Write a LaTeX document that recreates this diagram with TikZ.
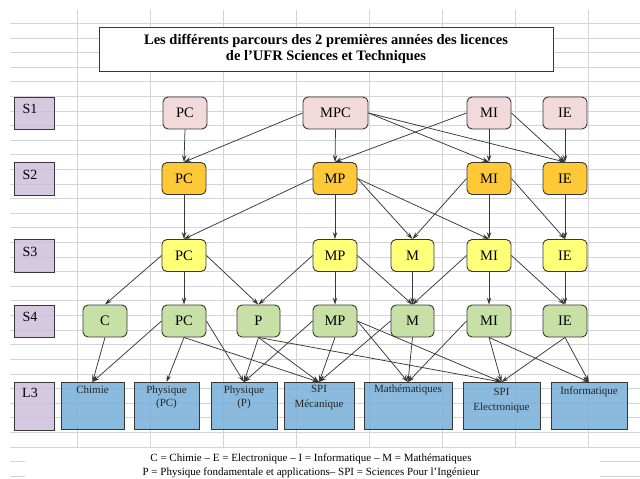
\documentclass[tikz,border=0pt]{standalone}
\usepackage{fontspec}
\setmainfont{Liberation Serif}
\usetikzlibrary{arrows.meta}

\definecolor{gridgray}{RGB}{212,212,212}
\definecolor{edgegray}{RGB}{55,55,55}
\definecolor{semfill}{RGB}{204,192,218}
\definecolor{sonefill}{RGB}{242,218,219}
\definecolor{stwofill}{RGB}{255,200,55}
\definecolor{sthreefill}{RGB}{255,255,120}
\definecolor{sfourfill}{RGB}{198,224,166}
\definecolor{lthreefill}{RGB}{118,174,216}

\tikzset{
    gridline/.style={gridgray, line width=0.8pt},
    titlebox/.style={draw=edgegray, fill=white, line width=0.9pt, minimum width=454pt, minimum height=44pt, align=center, font=\bfseries\fontsize{14.5}{16}\selectfont},
    sembox/.style={draw=edgegray, fill=semfill, fill opacity=0.85, line width=0.9pt, minimum width=40pt, inner sep=0pt},
    semtext/.style={font=\fontsize{14}{15}\selectfont},
    ue/.style={draw=edgegray, line width=0.9pt, rounded corners=5pt, minimum width=44pt, minimum height=32pt, inner sep=0pt, font=\fontsize{14.5}{16}\selectfont},
    sone/.style={ue, fill=sonefill},
    stwo/.style={ue, fill=stwofill},
    sthree/.style={ue, fill=sthreefill},
    sfour/.style={ue, fill=sfourfill},
    lbox/.style={draw=edgegray, fill=lthreefill, fill opacity=0.85, line width=0.9pt, minimum height=47pt, inner sep=0pt},
    ltext/.style={anchor=north, align=center, inner sep=0pt, text=black!85, font=\fontsize{11}{13}\selectfont},
    conn/.style={edgegray, line width=0.75pt, -{Stealth[length=7pt, width=4.5pt, inset=2.5pt]}},
}

\begin{document}
\begin{tikzpicture}[x=1pt, y=-1pt]
    \useasboundingbox (0,0) rectangle (640,479);
    \foreach \k in {0,...,31}
        \draw [gridline] (10,23.3+14.61*\k) -- (640,23.3+14.61*\k);
    \foreach \k in {0,...,7}
        \draw [gridline] (77+73*\k,10) -- (77+73*\k,448);
    \fill [white] (25,450) rectangle (600,479);

    \node [titlebox] (title) at (326,49) {Les différents parcours des 2 premières années des licences\\de l’UFR Sciences et Techniques};

    \node [sembox, minimum height=32pt] (sone) at (34,113) {};
    \node [sembox, minimum height=33pt] (stwo) at (34,178.5) {};
    \node [sembox, minimum height=33pt] (sthree) at (34,255.5) {};
    \node [sembox, minimum height=32pt] (sfour) at (34,321) {};
    \node [sembox, minimum height=48pt] (lthree) at (34,406) {};
    \node [semtext] (sonetxt) at (30,109) {S1};
    \node [semtext] (stwotxt) at (30,175) {S2};
    \node [semtext] (sthreetxt) at (30,252) {S3};
    \node [semtext] (sfourtxt) at (30,317) {S4};
    \node [semtext] (lthreetxt) at (30,393) {L3};

    \node [sone] (pcA) at (185,113) {PC};
    \node [sone, minimum width=65pt] (mpcA) at (335.5,113) {MPC};
    \node [sone] (miA) at (489,113) {MI};
    \node [sone] (ieA) at (565,113) {IE};

    \node [stwo] (pcB) at (184,178.5) {PC};
    \node [stwo] (mpB) at (335,178.5) {MP};
    \node [stwo] (miB) at (489,178.5) {MI};
    \node [stwo] (ieB) at (565,178.5) {IE};

    \node [sthree] (pcC) at (184,255.5) {PC};
    \node [sthree] (mpC) at (335,255.5) {MP};
    \node [sthree, minimum width=43pt] (mC) at (412.5,255.5) {M};
    \node [sthree] (miC) at (489,255.5) {MI};
    \node [sthree] (ieC) at (565,255.5) {IE};

    \node [sfour] (cD) at (105,321) {C};
    \node [sfour] (pcD) at (184,321) {PC};
    \node [sfour, minimum width=43pt] (pD) at (258.5,321) {P};
    \node [sfour] (mpD) at (335,321) {MP};
    \node [sfour, minimum width=43pt] (mD) at (412.5,321) {M};
    \node [sfour] (miD) at (489,321) {MI};
    \node [sfour] (ieD) at (565,321) {IE};

    \node [lbox, minimum width=63pt] (chimie) at (92.5,406) {};
    \node [lbox, minimum width=65pt] (phypc) at (166.5,406) {};
    \node [lbox, minimum width=66pt] (phyp) at (244,406) {};
    \node [lbox, minimum width=70pt] (spimec) at (319,406) {};
    \node [lbox, minimum width=88pt] (maths) at (408,406) {};
    \node [lbox, minimum width=77pt] (spielec) at (501.5,406) {};
    \node [lbox, minimum width=76pt] (info) at (589,406) {};
    \node [ltext] (chimietxt) at (92.5,386) {Chimie};
    \node [ltext] (phypctxt) at (166.5,386) {Physique\\(PC)};
    \node [ltext] (phyptxt) at (244,386) {Physique\\(P)};
    \node [ltext, font=\fontsize{11}{15}\selectfont] (spimectxt) at (319,385) {SPI\\Mécanique};
    \node [ltext] (mathstxt) at (408,385) {Mathématiques};
    \node [ltext, font=\fontsize{11}{15}\selectfont] (spielectxt) at (501.5,388) {SPI\\Electronique};
    \node [ltext] (infotxt) at (589,387) {Informatique};

    \draw [conn] (pcA.south) -- (pcB.north);
    \draw [conn] (mpcA.west) -- (pcB.north);
    \draw [conn] (mpcA.south) -- (mpB.north);
    \draw [conn] (mpcA.east) -- (miB.north);
    \draw [conn] (mpcA.east) -- (ieB.north);
    \draw [conn] (miA.west) -- (mpB.north);
    \draw [conn] (miA.south) -- (miB.north);
    \draw [conn] (miA.east) -- (ieB.north);
    \draw [conn] (ieA.south) -- (ieB.north);

    \draw [conn] (pcB.south) -- (pcC.north);
    \draw [conn] (mpB.west) -- (pcC.north);
    \draw [conn] (mpB.south) -- (mpC.north);
    \draw [conn] (mpB.east) -- (mC.north);
    \draw [conn] (mpB.east) -- (miC.north);
    \draw [conn] (miB.west) -- (mC.north);
    \draw [conn] (miB.south) -- (miC.north);
    \draw [conn] (miB.east) -- (ieC.north);
    \draw [conn] (ieB.south) -- (ieC.north);

    \draw [conn] (pcC.west) -- (cD.north);
    \draw [conn] (pcC.south) -- (pcD.north);
    \draw [conn] (pcC.east) -- (pD.north);
    \draw [conn] (mpC.west) -- (pD.north);
    \draw [conn] (mpC.south) -- (mpD.north);
    \draw [conn] (mpC.east) -- (mD.north);
    \draw [conn] (mC.south) -- (mD.north);
    \draw [conn] (miC.west) -- (mD.north);
    \draw [conn] (miC.south) -- (miD.north);
    \draw [conn] (miC.east) -- (ieD.north);
    \draw [conn] (ieC.south) -- (ieD.north);

    \draw [conn] (cD.south) -- (chimie.north);
    \draw [conn] (pcD.west) -- (chimie.north);
    \draw [conn] (pcD.south) -- (phypc.north);
    \draw [conn] (pcD.east) -- (phyp.north);
    \draw [conn] (pcD.south) -- (spimec.north);
    \draw [conn] (pD.south) -- (phyp.north);
    \draw [conn] (pD.south) -- (spimec.north);
    \draw [conn] (pD.south) -- (spielec.north);
    \draw [conn] (mpD.west) -- (phyp.north);
    \draw [conn] (mpD.south) -- (spimec.north);
    \draw [conn] (mpD.east) -- (maths.north);
    \draw [conn] (mpD.east) -- (spielec.north);
    \draw [conn] (mD.west) -- (spimec.north);
    \draw [conn] (mD.south) -- (maths.north);
    \draw [conn] (miD.west) -- (maths.north);
    \draw [conn] (miD.south) -- (spielec.north);
    \draw [conn] (miD.south) -- (info.north);
    \draw [conn] (ieD.south) -- (spielec.north);
    \draw [conn] (ieD.south) -- (info.north);

    \node [align=center, font=\fontsize{11}{14}\selectfont] (legend) at (311,466) {C = Chimie -- E = Electronique -- I = Informatique -- M = Mathématiques\\P = Physique fondamentale et applications-- SPI = Sciences Pour l’Ingénieur};
\end{tikzpicture}
\end{document}
